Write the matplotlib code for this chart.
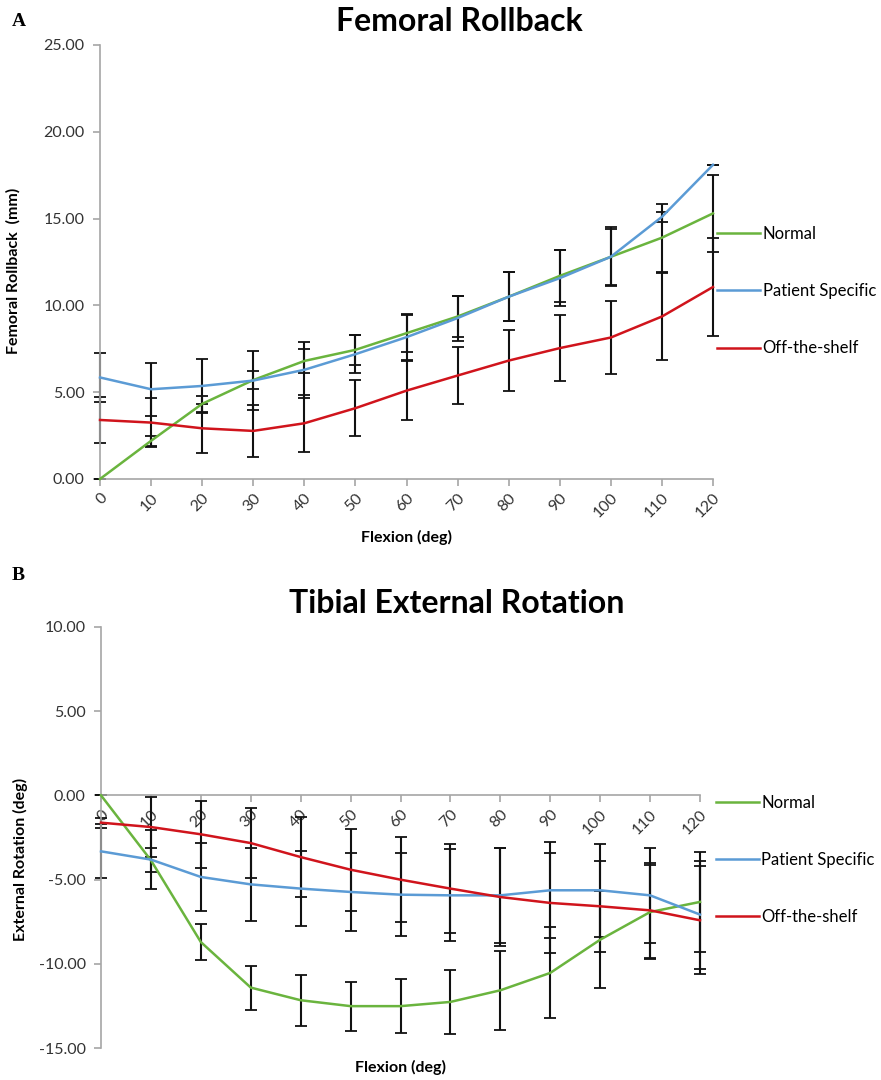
import matplotlib
matplotlib.use('Agg')
import matplotlib.pyplot as plt

# flexion angles (deg)
flexion = [0, 10, 20, 30, 40, 50, 60, 70, 80, 90, 100, 110, 120]
series_names = ['Normal', 'Patient Specific', 'Off-the-shelf']
colors = ['#6AB43E', '#5B9BD5', '#D0141C']

# A: femoral rollback (mm)
normal_a = [0, 2.2, 4.33, 5.7, 6.8, 7.44, 8.4, 9.36, 10.5, 11.7, 12.8, 13.9, 15.3]
patient_a = [5.85, 5.17, 5.36, 5.67, 6.29, 7.19, 8.17, 9.27, 10.5, 11.57, 12.8, 15.1, 18.1]
shelf_a = [3.4, 3.25, 2.92, 2.77, 3.21, 4.08, 5.09, 5.96, 6.82, 7.54, 8.15, 9.36, 11.06]
normal_a_sd = [0, 0.3, 0.45, 0.53, 0.68, 0.85, 1.1, 1.2, 1.4, 1.5, 1.7, 1.96, 2.2]
patient_a_sd = [1.43, 1.54, 1.56, 1.71, 1.63, 1.1, 1.3, 1.3, 1.42, 1.6, 1.6, 0.3, 0.0]
shelf_a_sd = [1.34, 1.42, 1.4, 1.48, 1.63, 1.6, 1.69, 1.65, 1.75, 1.89, 2.1, 2.5, 2.8]

# B: tibial external rotation (deg)
normal_b = [0, -3.85, -8.7, -11.4, -12.15, -12.5, -12.5, -12.25, -11.56, -10.53, -8.56, -6.92, -6.32]
patient_b = [-3.32, -3.81, -4.84, -5.28, -5.53, -5.73, -5.89, -5.93, -5.93, -5.63, -5.63, -5.93, -7.07]
shelf_b = [-1.62, -1.88, -2.31, -2.83, -3.66, -4.41, -5.0, -5.53, -6.03, -6.38, -6.58, -6.82, -7.41]
normal_b_sd = [0, 0.7, 1.05, 1.3, 1.5, 1.45, 1.6, 1.9, 2.35, 2.7, 2.86, 2.8, 2.95]
patient_b_sd = [1.6, 1.75, 2.0, 2.15, 2.23, 2.3, 2.45, 2.73, 2.8, 2.85, 2.75, 2.8, 3.2]
shelf_b_sd = [0.3, 1.8, 2.0, 2.1, 2.35, 2.43, 2.5, 2.66, 2.9, 2.95, 2.68, 2.8, 3.2]

plt.rcParams['font.family'] = ['Lato', 'DejaVu Sans']
grey = '#A6A6A6'
txt = '#333333'

fig = plt.figure(figsize=(8.81, 10.8), dpi=100)
ax_a = fig.add_axes([100 / 881, 1 - 479 / 1080, 613 / 881, 434 / 1080])
ax_b = fig.add_axes([101 / 881, 1 - 1048.3 / 1080, 599 / 881, 421.6 / 1080])


def draw(ax, data, sds, zero_spine=False):
    if zero_spine:
        ax.spines['bottom'].set_position(('data', 0))
    for vals, sd in zip(data, sds):
        ax.errorbar(flexion, vals, yerr=sd, fmt='none', ecolor='#111111',
                    elinewidth=1.5, capsize=4, capthick=1.3, zorder=2, clip_on=False)
    for vals, c, name in zip(data, colors, series_names):
        ax.plot(flexion, vals, color=c, lw=1.8, label=name, zorder=3, clip_on=False)
    ax.set_xlim(0, 120)
    ax.set_xticks(flexion)
    ax.set_xticklabels([str(v) for v in flexion], rotation=45, ha='right',
                       rotation_mode='anchor', fontsize=11.5, color=txt)
    for s in ['top', 'right']:
        ax.spines[s].set_visible(False)
    for s in ['left', 'bottom']:
        ax.spines[s].set_color(grey)
        ax.spines[s].set_linewidth(1.2)
    ax.tick_params(colors=grey, length=5, width=1.2, labelcolor=txt, labelsize=11.5)
    ax.tick_params(axis='y', pad=6)
    ax.yaxis.set_major_formatter(matplotlib.ticker.FormatStrFormatter('%.2f'))
    ax.legend(loc='center left', frameon=False, borderpad=0, borderaxespad=0,
              handlelength=2.6, handletextpad=0.15, labelspacing=2.48, fontsize=12)


draw(ax_a, [normal_a, patient_a, shelf_a], [normal_a_sd, patient_a_sd, shelf_a_sd])
ax_a.set_ylim(0, 25)
ax_a.set_yticks([0, 5, 10, 15, 20, 25])
ax_a.set_xlabel('Flexion (deg)', fontsize=11.5, fontweight='bold')
ax_a.xaxis.set_label_coords(0.5, -0.118)
ax_a.set_ylabel('Femoral Rollback  (mm)', fontsize=11.5, fontweight='bold')
ax_a.yaxis.set_label_coords(-0.13, 0.48)
ax_a.set_title('Femoral Rollback', fontsize=23, fontweight='bold', pad=10, x=0.586)
ax_a.get_legend().set_bbox_to_anchor((1.006, 0.433))

draw(ax_b, [normal_b, patient_b, shelf_b], [normal_b_sd, patient_b_sd, shelf_b_sd],
     zero_spine=True)
ax_b.set_ylim(-15, 10)
ax_b.set_yticks([-15, -10, -5, 0, 5, 10])
ax_b.set_xlabel('Flexion (deg)', fontsize=11.5, fontweight='bold')
ax_b.xaxis.set_label_coords(0.5, -0.028)
ax_b.set_ylabel('External Rotation (deg)', fontsize=11.5, fontweight='bold')
ax_b.yaxis.set_label_coords(-0.122, 0.447)
ax_b.set_title('Tibial External Rotation', fontsize=23, fontweight='bold', pad=10, x=0.593)
ax_b.get_legend().set_bbox_to_anchor((1.026, 0.447))

fig.text(12 / 881, 1 - 22 / 1080, 'A', family='Liberation Serif', fontweight='bold',
         fontsize=14, va='center', ha='left')
fig.text(12 / 881, 1 - 576 / 1080, 'B', family='Liberation Serif', fontweight='bold',
         fontsize=14, va='center', ha='left')

fig.savefig('out.png', dpi=100)
